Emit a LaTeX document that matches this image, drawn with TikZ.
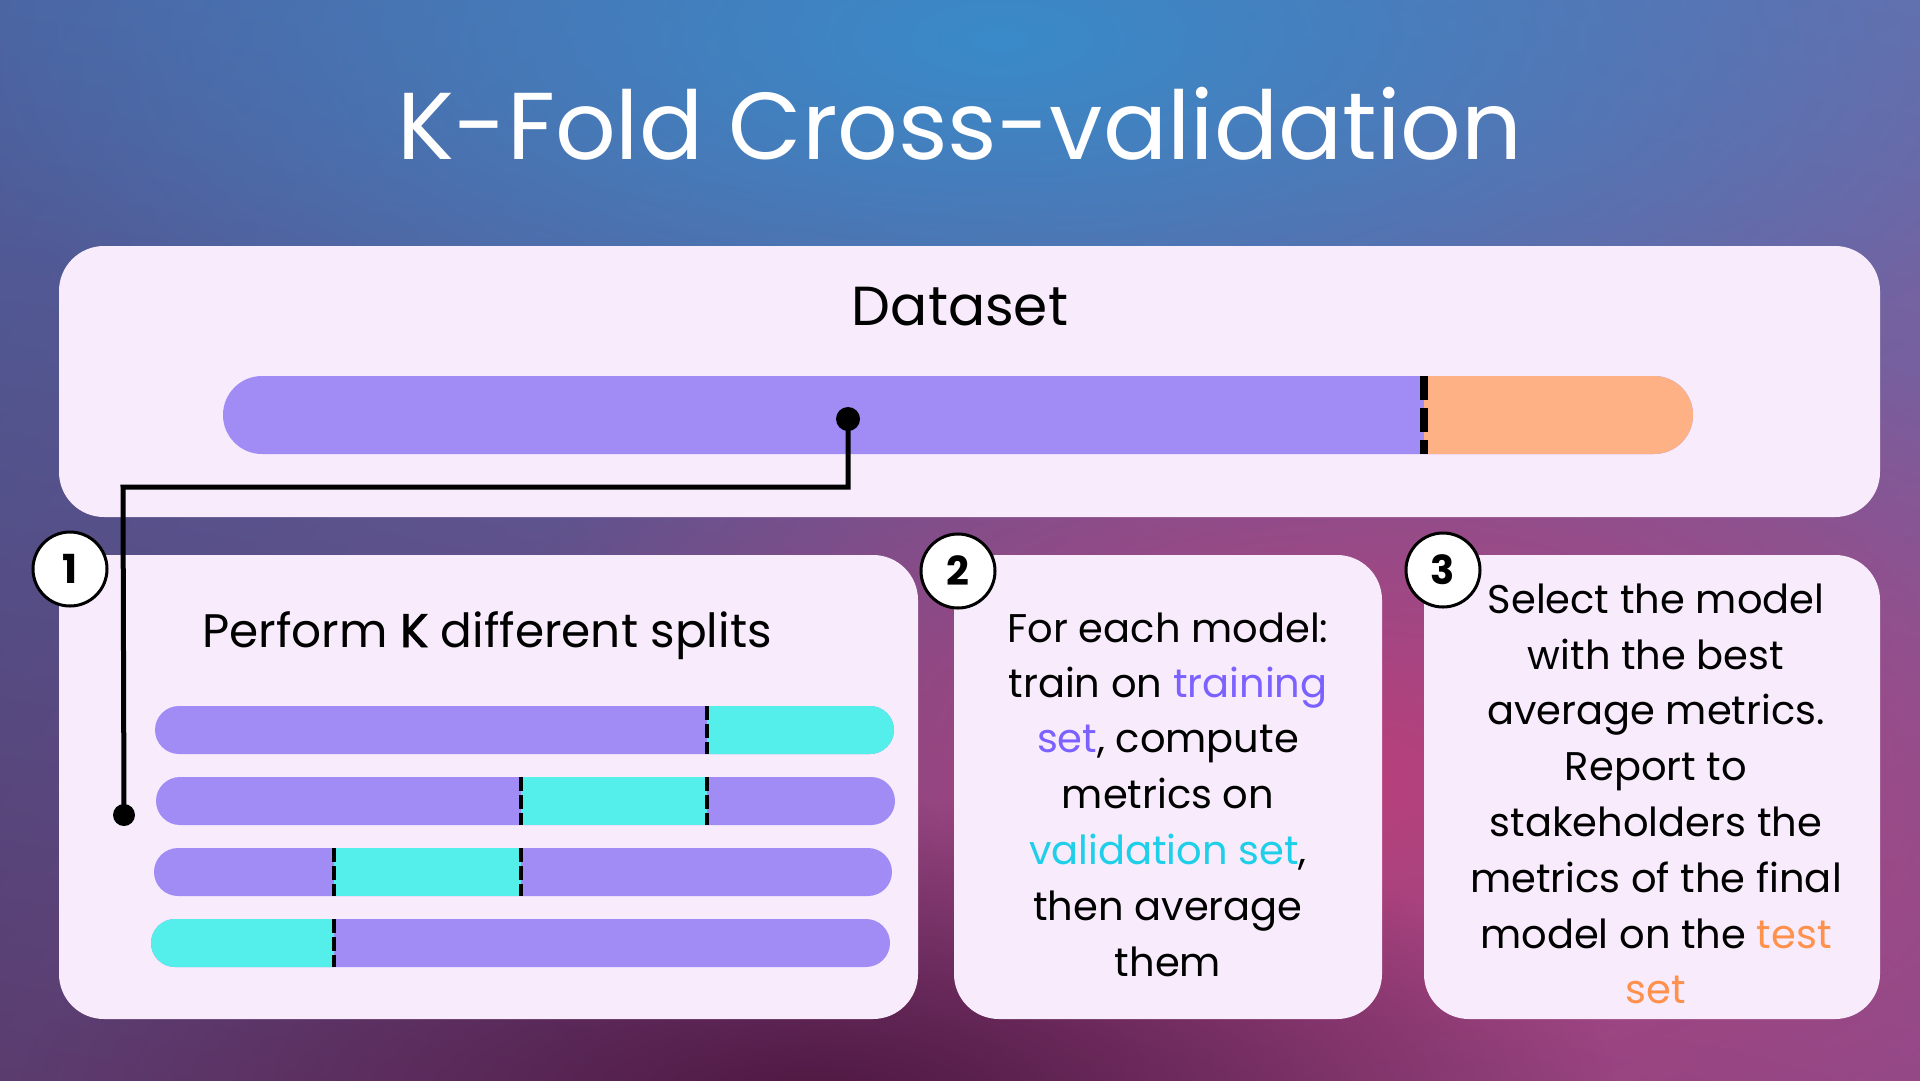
\documentclass[tikz,border=0pt]{standalone}
\usepackage{fontspec}
\setmainfont{Poppins}
\usetikzlibrary{fadings,shadings}
\definecolor{panelbg}{HTML}{F7EBFC}
\definecolor{trainc}{HTML}{A18CF5}
\definecolor{valc}{HTML}{55EFEB}
\definecolor{testc}{HTML}{FDB184}
\definecolor{traintxt}{HTML}{7B61FF}
\definecolor{valtxt}{HTML}{1ECFEA}
\definecolor{testtxt}{HTML}{FF914D}
\definecolor{bgUL}{HTML}{4D62A0}
\definecolor{bgUR}{HTML}{6A6BAA}
\definecolor{bgLL}{HTML}{5B3C6F}
\definecolor{bgLR}{HTML}{8F4A89}
\definecolor{bgblue}{HTML}{3A8AC9}
\definecolor{bgpink}{HTML}{B8407C}
\definecolor{bgdark}{HTML}{4F1842}
\tikzfading[name=softfade, inner color=transparent!0, outer color=transparent!100]
\tikzset{
  panel/.style={fill=panelbg, rounded corners=45pt, inner sep=0pt, draw=none},
  numcirc/.style={circle, fill=white, draw=black, line width=3pt, minimum size=74pt, inner sep=0pt,
    font=\fontsize{40}{48}\selectfont\bfseries},
  dotnode/.style={circle, fill=black, minimum size=24pt, inner sep=0pt},
  conn/.style={line width=5pt, draw=black},
  bigsplit/.style={line width=8pt, draw=black, dash pattern=on 24pt off 8pt},
  smallsplit/.style={line width=4pt, draw=black, dash pattern=on 14pt off 4pt},
  titletxt/.style={anchor=base, text=white, inner sep=0pt, font=\fontsize{95}{110}\selectfont},
  headtxt/.style={anchor=base, text=black, inner sep=0pt, font=\fontsize{55}{66}\selectfont},
  subtxt/.style={anchor=base, text=black, inner sep=0pt, font=\fontsize{47}{56}\selectfont},
  bodytxt/.style={anchor=base, text=black, inner sep=0pt, font=\fontsize{40}{48}\selectfont},
  bodytxtb/.style={anchor=base, text=black, inner sep=0pt, font=\fontsize{40}{48}\selectfont},
}
\begin{document}
\begin{tikzpicture}[x=1pt, y=-1pt]
\useasboundingbox (0,0) rectangle (1920,1080);
% background
\shade[upper left=bgUL, upper right=bgUR, lower left=bgLL, lower right=bgLR] (0,0) rectangle (1920,1080);
\fill[bgpink, path fading=softfade] (1350,780) ellipse [x radius=900pt, y radius=520pt];
\fill[bgdark, path fading=softfade] (820,1100) ellipse [x radius=800pt, y radius=300pt];
\fill[bgblue, path fading=softfade] (1000,40) ellipse [x radius=1100pt, y radius=450pt];

% title
\node[titletxt] (title) at (960,159) {K-Fold Cross-validation};

% dataset panel
\node[panel, minimum width=1821pt, minimum height=271pt] (dataset) at (969.5,381.5) {};
\node[headtxt] (dslabel) at (960,325) {Dataset};
\fill[trainc, rounded corners=39pt] (223,376) rectangle (1693,454);
\begin{scope}
  \clip (1424,370) rectangle (1700,460);
  \fill[testc, rounded corners=39pt] (223,376) rectangle (1693,454);
\end{scope}
\draw[bigsplit] (1424,376) -- (1424,454);

% lower panels
\node[panel, minimum width=859pt, minimum height=464pt] (box1) at (488.5,787) {};
\node[panel, minimum width=428pt, minimum height=464pt] (box2) at (1168,787) {};
\node[panel, minimum width=456pt, minimum height=464pt] (box3) at (1652,787) {};

% box 1
\node[subtxt] (splitlabel) at (487,647) {Perform {\addfontfeatures{FakeBold=2}K} different splits};
% bar 1
\fill[trainc, rounded corners=24pt] (155,706) rectangle (894,754);
\begin{scope}\clip (707,700) rectangle (900,760);
  \fill[valc, rounded corners=24pt] (155,706) rectangle (894,754);\end{scope}
\draw[smallsplit] (707,706) -- (707,754);
% bar 2
\fill[trainc, rounded corners=24pt] (156,777) rectangle (895,825);
\fill[valc] (521,777) rectangle (707,825);
\draw[smallsplit] (521,777) -- (521,825);
\draw[smallsplit] (707,777) -- (707,825);
% bar 3
\fill[trainc, rounded corners=24pt] (154,848) rectangle (892,896);
\fill[valc] (334,848) rectangle (521,896);
\draw[smallsplit] (334,848) -- (334,896);
\draw[smallsplit] (521,848) -- (521,896);
% bar 4
\fill[trainc, rounded corners=24pt] (151,919) rectangle (890,967);
\begin{scope}\clip (140,910) rectangle (334,975);
  \fill[valc, rounded corners=24pt] (151,919) rectangle (890,967);\end{scope}
\draw[smallsplit] (334,919) -- (334,967);

% box 2 text
\node[bodytxt] (t2a) at (1168,642) {For each model:};
\node[bodytxt] (t2b) at (1168,697) {train on \textcolor{traintxt}{training}};
\node[bodytxt] (t2c) at (1168,752) {\textcolor{traintxt}{set}, compute};
\node[bodytxt] (t2d) at (1168,808) {metrics on};
\node[bodytxt] (t2e) at (1168,864) {\textcolor{valtxt}{validation set},};
\node[bodytxt] (t2f) at (1168,920) {then average};
\node[bodytxt] (t2g) at (1168,976) {them};

% box 3 text
\node[bodytxtb] (t3a) at (1656,613) {Select the model};
\node[bodytxtb] (t3b) at (1656,669) {with the best};
\node[bodytxtb] (t3c) at (1656,724) {average metrics.};
\node[bodytxtb] (t3d) at (1656,780) {Report to};
\node[bodytxtb] (t3e) at (1656,836) {stakeholders the};
\node[bodytxtb] (t3f) at (1656,892) {metrics of the final};
\node[bodytxtb] (t3g) at (1656,948) {model on the \textcolor{testtxt}{test}};
\node[bodytxtb] (t3h) at (1656,1003) {\textcolor{testtxt}{set}};

% number circles
\node[numcirc] (n1) at (70,569) {1};
\node[numcirc] (n2) at (958,571) {2};
\node[numcirc] (n3) at (1443,570) {3};

% connector
\node[dotnode] (topdot) at (848,419) {};
\node[dotnode, minimum size=22pt] (botdot) at (124,815) {};
\coordinate (bendA) at (848,487);
\coordinate (bendB) at (123,487);
\draw[conn] (topdot.center) -- (bendA) -- (bendB) -- (botdot.center);
\end{tikzpicture}
\end{document}
